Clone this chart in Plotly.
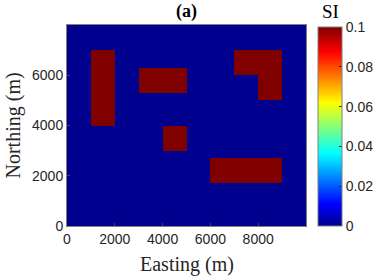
import numpy as np
import plotly.graph_objects as go

# Grid (cell centres, metres)
easting = list(range(50, 10000, 100))
northing = list(range(50, 8000, 100))

# Anomalous blocks: (x0, x1, y0, y1) and their SI value
block_x0 = [1000, 3000, 4000, 7000, 8000, 6000]
block_x1 = [2000, 5000, 5000, 9000, 9000, 9000]
block_y0 = [4000, 5300, 3000, 6000, 5000, 1700]
block_y1 = [7000, 6300, 4000, 7000, 6000, 2700]
block_si = [0.1, 0.1, 0.1, 0.1, 0.1, 0.1]
background_si = 0.0

x_ticks = [0, 2000, 4000, 6000, 8000]
y_ticks = [0, 2000, 4000, 6000]
cb_ticks = [0, 0.02, 0.04, 0.06, 0.08, 0.1]
cb_ticktext = ["0", "0.02", "0.04", "0.06", "0.08", "0.1"]

X, Y = np.meshgrid(easting, northing)
Z = np.full(X.shape, background_si, dtype=float)
for x0, x1, y0, y1, v in zip(block_x0, block_x1, block_y0, block_y1, block_si):
    Z[(X > x0) & (X < x1) & (Y > y0) & (Y < y1)] = v

jet = [
    [0.0, "rgb(0,0,143)"],
    [0.111, "rgb(0,0,255)"],
    [0.365, "rgb(0,255,255)"],
    [0.619, "rgb(255,255,0)"],
    [0.873, "rgb(255,0,0)"],
    [1.0, "rgb(128,0,0)"],
]

tickfont = dict(family="Liberation Sans, Arial, sans-serif", size=14, color="#262626")
serif = "Liberation Serif, Times New Roman, serif"

fig = go.Figure(go.Heatmap(
    x=easting, y=northing, z=Z, zmin=0, zmax=0.1, colorscale=jet,
    hoverinfo="skip",
    colorbar=dict(
        x=(318 - 67) / 239, xanchor="left", xpad=0, ypad=0,
        y=0, yanchor="bottom", len=199 / 201, lenmode="fraction",
        thickness=24, outlinewidth=1, outlinecolor="#808080",
        tickvals=cb_ticks, ticktext=cb_ticktext, ticks="inside", ticklen=3,
        tickcolor="#262626", tickfont=tickfont,
    ),
))

fig.update_layout(
    width=374, height=278,
    margin=dict(l=67, r=68, t=25, b=52, autoexpand=False),
    paper_bgcolor="white", plot_bgcolor="white",
    showlegend=False,
    xaxis=dict(range=[0, 10000], tickvals=x_ticks, ticks="inside", ticklen=3,
               showgrid=False, zeroline=False, showline=True, mirror=True,
               linecolor="#808080", linewidth=1, tickfont=tickfont),
    yaxis=dict(range=[0, 8000], tickvals=y_ticks, ticks="inside", ticklen=3,
               showgrid=False, zeroline=False, showline=True, mirror=True,
               linecolor="#808080", linewidth=1, tickfont=tickfont),
    annotations=[
        dict(text="<b>(a)</b>", x=0.5, y=1 + 13 / 201, xref="paper", yref="paper",
             showarrow=False, font=dict(family=serif, size=18, color="black"),
             xanchor="center", yanchor="middle"),
        dict(text="SI", x=(330 - 67) / 239, y=1 + 13 / 201, xref="paper", yref="paper",
             showarrow=False, font=dict(family=serif, size=19, color="black"),
             xanchor="center", yanchor="middle"),
        dict(text="Easting (m)", x=0.5, y=-(264 - 226) / 201, xref="paper", yref="paper",
             showarrow=False, font=dict(family=serif, size=20, color="#262626"),
             xanchor="center", yanchor="middle"),
        dict(text="Northing (m)", x=(13 - 67) / 239, y=0.5, xref="paper", yref="paper",
             showarrow=False, textangle=-90, font=dict(family=serif, size=20, color="#262626"),
             xanchor="center", yanchor="middle"),
    ],
)

fig.write_html("out.html", config={"displayModeBar": False},
               post_script="document.body.style.margin='0';document.body.style.overflow='hidden';")
